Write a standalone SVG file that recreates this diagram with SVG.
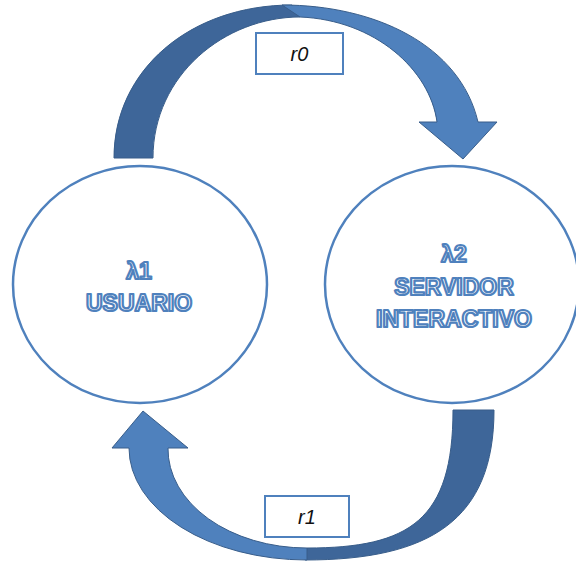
<svg xmlns="http://www.w3.org/2000/svg" width="576" height="562" viewBox="0 0 576 562">
<style>
.dark{fill:#3e6699;stroke:#385d8a;stroke-width:1}
.light{fill:#4f81bd;stroke:#385d8a;stroke-width:1}
.node{fill:#ffffff;stroke:#4f81bd;stroke-width:2.5}
.lbl{font-family:"Liberation Sans",Arial,sans-serif;font-weight:bold;font-size:23px;fill:#ffffff;stroke:#4f81bd;stroke-width:2.2;stroke-linejoin:round;text-anchor:middle}
.box{fill:#ffffff;stroke:#4f81bd;stroke-width:2}
.rt{font-family:"Liberation Sans",Arial,sans-serif;font-style:italic;font-size:20px;fill:#111111;text-anchor:middle}
</style>
<rect width="576" height="562" fill="#ffffff"/>
<g id="connectors">
  <g id="arrow-r0">
    <path class="dark" d="M114,158 C114,70 190,5 292,5 L300,17 C225,17 153,75 153,158 Z"/>
    <path class="light" d="M282,5 C375,5 460,45 478,122 L497,122 L463,159 L419,122 L437,122 C430,70 375,20 300,17 Z"/>
  </g>
  <g id="arrow-r1">
    <path class="dark" d="M494,410 C494,520 430,560 305,560 L307,548 C410,548 453,520 453,410 Z"/>
    <path class="light" d="M307,560 A178,112 0 0 1 129,448 L112,448 L143,411 L188,448 L168,448 A139,99 0 0 0 307,548 Z"/>
  </g>
</g>
<g id="node-usuario">
  <ellipse class="node" cx="140" cy="284.5" rx="127" ry="118.5"/>
  <text class="lbl" x="139" y="279">λ1</text>
  <text class="lbl" x="139" y="311">USUARIO</text>
</g>
<g id="node-servidor">
  <ellipse class="node" cx="452" cy="284.5" rx="127" ry="118.5"/>
  <text class="lbl" x="454" y="262">λ2</text>
  <text class="lbl" x="454" y="295">SERVIDOR</text>
  <text class="lbl" x="454" y="327">INTERACTIVO</text>
</g>
<g id="label-r0">
  <rect class="box" x="256" y="33" width="87" height="41"/>
  <text class="rt" x="299.5" y="61">r0</text>
</g>
<g id="label-r1">
  <rect class="box" x="265" y="496" width="84" height="41"/>
  <text class="rt" x="307" y="524">r1</text>
</g>
</svg>
